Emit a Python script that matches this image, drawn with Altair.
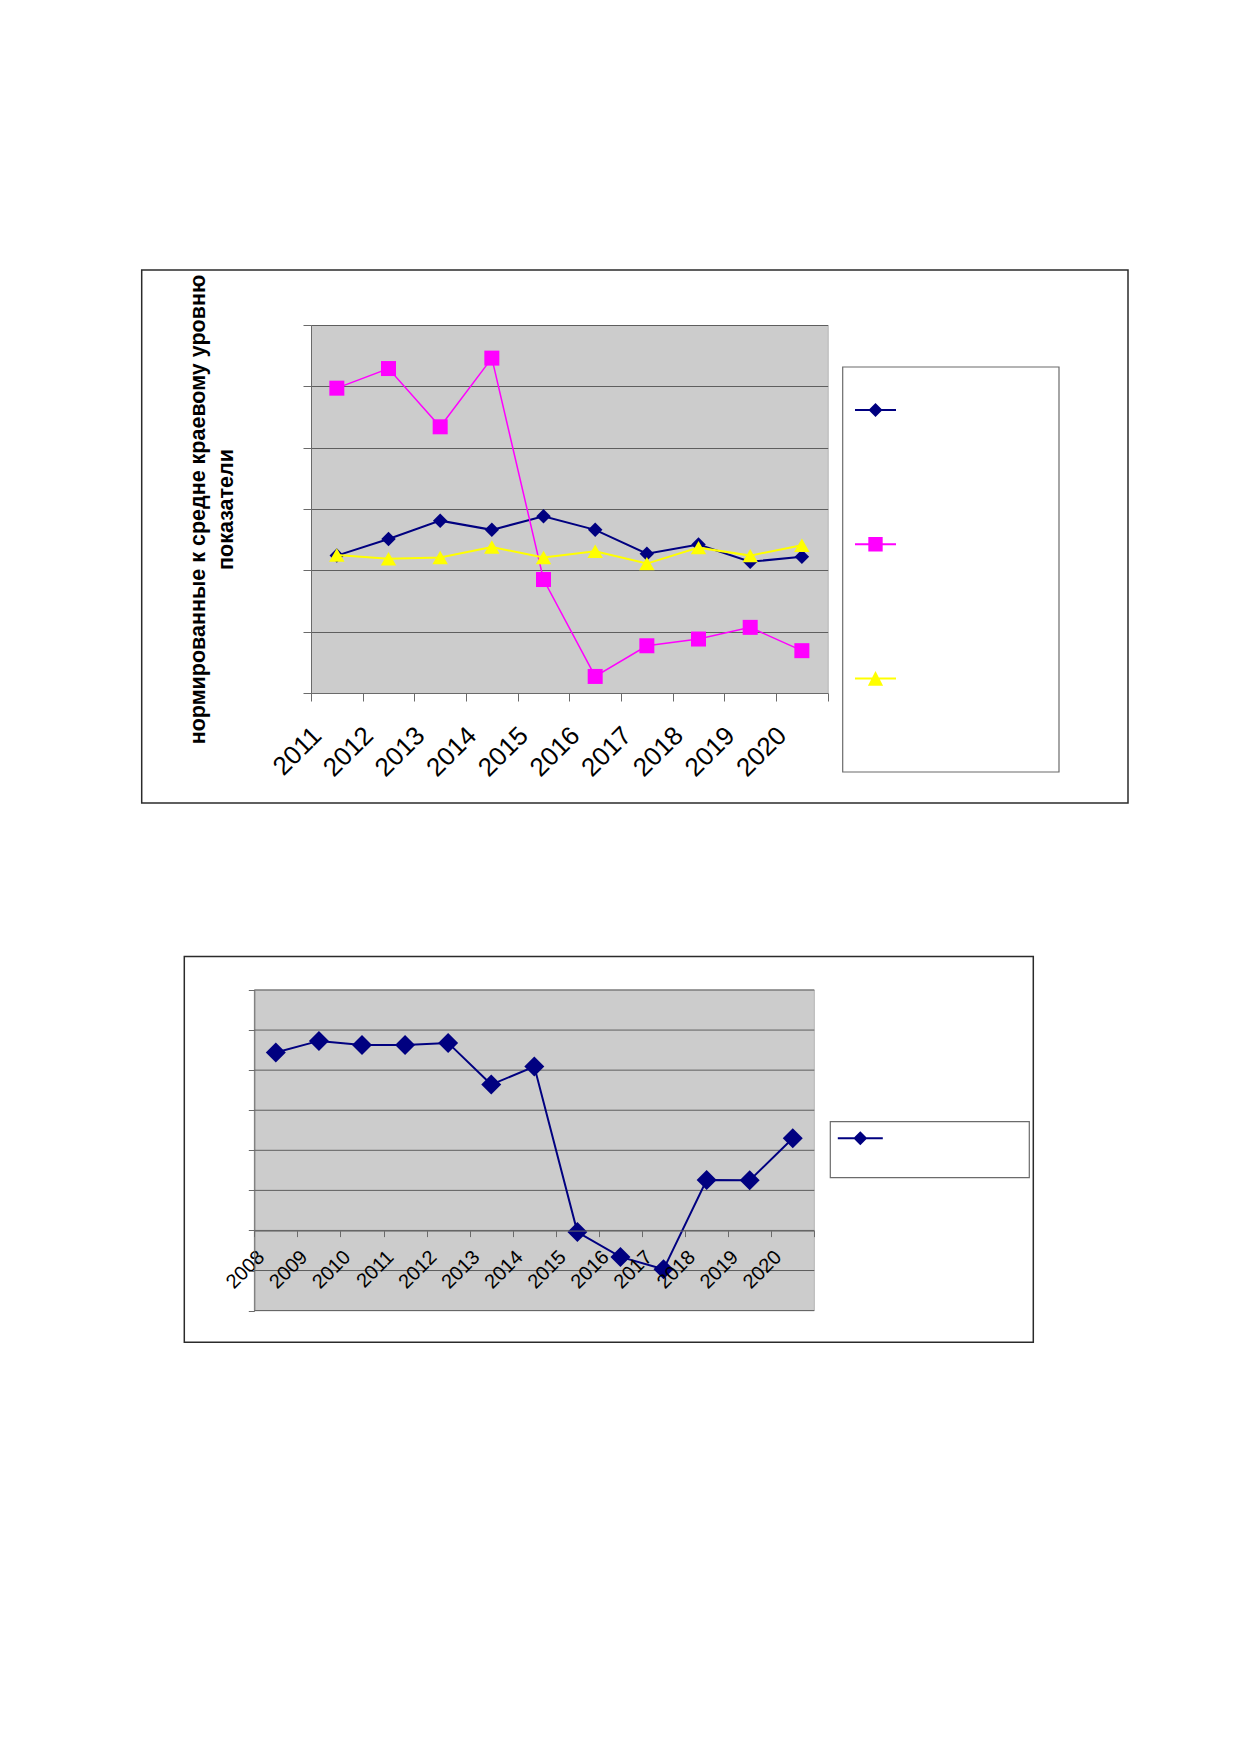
import altair as alt
import pandas as pd

FONT = "Liberation Sans"

# ---------------- data: chart 1 ----------------
years1 = ["2011", "2012", "2013", "2014", "2015", "2016", "2017", "2018", "2019", "2020"]
series1 = ["Показатель 1", "Показатель 2", "Показатель 3"]
blue1 = [2.24, 2.51, 2.81, 2.66, 2.88, 2.66, 2.27, 2.42, 2.14, 2.22]
pink1 = [4.97, 5.29, 4.34, 5.46, 1.85, 0.27, 0.77, 0.88, 1.07, 0.69]
yellow1 = [2.25, 2.19, 2.21, 2.38, 2.21, 2.31, 2.11, 2.37, 2.24, 2.41]
y1_ticks = [0, 1, 2, 3, 4, 5, 6]
y1_title = ["нормированные к средне краевому уровню", "показатели"]

# ---------------- data: chart 2 ----------------
years2 = ["2008", "2009", "2010", "2011", "2012", "2013", "2014",
          "2015", "2016", "2017", "2018", "2019", "2020"]
series2 = ["Показатель"]
blue2 = [4.44, 4.73, 4.63, 4.63, 4.68, 3.64, 4.09, -0.04, -0.66, -0.97, 1.26, 1.25, 2.30]
y2_ticks = [-2, -1, 0, 1, 2, 3, 4, 5, 6]

NAVY, MAGENTA, YELLOW = "#000080", "#FF00FF", "#FFFF00"
PLOT_BG = "#CCCCCC"
PLOT_EDGE = "#B5B5B5"
GRID = "#5e5e5e"
AXIS = "#6a6a6a"

df1 = pd.DataFrame({
    "year": years1 * 3,
    "series": [series1[0]] * 10 + [series1[1]] * 10 + [series1[2]] * 10,
    "value": blue1 + pink1 + yellow1,
})
df2 = pd.DataFrame({"year": years2, "series": series2[0], "value": blue2})
ticks2 = pd.DataFrame({"value": y2_ticks})

one = pd.DataFrame({"k": [1]})


def box(x, x2, y, y2, stroke, sw=1.0, opacity=1.0, fill="transparent"):
    return alt.Chart(one).mark_rect(
        fill=fill, stroke=stroke, strokeWidth=sw, opacity=opacity
    ).encode(x=alt.value(x), x2=alt.value(x2), y=alt.value(y), y2=alt.value(y2))


# ================= chart 1 =================
W1, H1 = 516.7, 368
x1 = alt.X(
    "year:O",
    bandPosition=0.5,
    scale=alt.Scale(type="band", domain=years1, paddingInner=0, paddingOuter=0),
    axis=alt.Axis(
        title=None, tickBand="extent", labelAngle=-45, labelAlign="right",
        labelBaseline="middle", labelFont=FONT, labelFontSize=26, labelColor="black",
        labelOffset=-20, labelPadding=30, tickSize=8, tickColor=AXIS, domainColor=AXIS,
        labelOverlap=False, grid=False,
    ),
)
y1 = alt.Y(
    "value:Q",
    scale=alt.Scale(domain=[0, 6], nice=False, zero=False),
    axis=alt.Axis(
        values=y1_ticks, labels=False, grid=True, gridColor=GRID, tickSize=8,
        tickColor=AXIS, domainColor=AXIS, title=y1_title, titleFont=FONT,
        titleFontSize=21.5, titleFontWeight="bold", titleColor="black",
        titleAngle=-90, titleAlign="center", titleBaseline="middle",
        titleX=-113, titleY=H1 / 2, titleLineHeight=28,
    ),
)

styles1 = [
    (series1[0], NAVY, "diamond", 210, 2),
    (series1[1], MAGENTA, "square", 225, 1.5),
    (series1[2], YELLOW, "triangle-up", 240, 2),
]
layers1 = []
for name, col, shp, sz, lw in styles1:
    base = alt.Chart(df1).transform_filter(alt.datum.series == name)
    layers1.append(base.mark_line(color=col, strokeWidth=lw).encode(x=x1, y=y1))
    layers1.append(base.mark_point(shape=shp, filled=True, color=col, size=sz,
                                   opacity=1).encode(x=x1, y=y1))

leg_paths1 = [
    "M-1,-0.05L1,-0.05L1,0.05L-1,0.05Z M0,-0.34L0.34,0L0,0.34L-0.34,0Z",
    "M-1,-0.05L1,-0.05L1,0.05L-1,0.05Z M-0.35,-0.35L0.35,-0.35L0.35,0.35L-0.35,0.35Z",
    "M-1,-0.05L1,-0.05L1,0.05L-1,0.05Z M0,-0.36L0.37,0.36L-0.37,0.36Z",
]
legend1_props = dict(
    title=None, orient="none", legendX=544, legendY=64.5, padding=0,
    rowPadding=106.2, symbolSize=1681, symbolStrokeWidth=0, symbolOpacity=1,
    labelExpr="''", labelFontSize=1,
)
legend1 = alt.Chart(pd.DataFrame({"series": series1})).transform_filter("false").mark_point(
    filled=True, opacity=1
).encode(
    color=alt.Color("series:N", scale=alt.Scale(domain=series1, range=[NAVY, MAGENTA, YELLOW]),
                    legend=alt.Legend(**legend1_props)),
    shape=alt.Shape("series:N", scale=alt.Scale(domain=series1, range=leg_paths1),
                    legend=alt.Legend(**legend1_props)),
)

chart1 = alt.layer(
    box(-180, 830, -66, 486, "white", 0, 0),          # invisible bounds
    box(-169.3, 817, -55, 478, "#2b2b2b", 1.5),        # chart frame
    box(531.7, 748, 42, 447, "#6b6b6b", 1.2),          # legend box
    *layers1,
    legend1,
).properties(width=W1, height=H1,
             view=alt.ViewBackground(fill=PLOT_BG, stroke=PLOT_EDGE, strokeWidth=1))

# ================= chart 2 =================
# the plot spans x = -56.7 .. 503.3 relative to the column origin shared with chart 1
X2_LEFT, X2_RIGHT = -56.7, 503.3
H2 = 320.6
x2 = alt.X(
    "year:O",
    bandPosition=0.5,
    scale=alt.Scale(type="band", domain=years2, range=[X2_LEFT, X2_RIGHT],
                    paddingInner=0, paddingOuter=0),
    axis=alt.Axis(
        title=None, tickBand="extent", labelAngle=-45, labelAlign="right",
        labelBaseline="middle", labelFont=FONT, labelFontSize=20, labelColor="black",
        labelOffset=-15, labelPadding=17, tickSize=6, tickColor=AXIS, domainColor=AXIS,
        labelOverlap=False, grid=False, offset=-80, zindex=1,
    ),
)


def y2enc(field):
    return alt.Y(
        f"{field}:Q",
        scale=alt.Scale(domain=[-2, 6], nice=False, zero=False),
        axis=alt.Axis(
            values=y2_ticks, labels=False, grid=False, tickSize=6,
            tickColor=AXIS, domainColor=AXIS, title=None, offset=-X2_LEFT, zindex=1,
        ),
    )


bg2 = box(X2_LEFT, X2_RIGHT, 0, H2, PLOT_EDGE, 1, 1, PLOT_BG)
grid2 = alt.Chart(ticks2).mark_rule(color=GRID, strokeWidth=1).encode(
    y=y2enc("value"), x=alt.value(X2_LEFT), x2=alt.value(X2_RIGHT)
)
base2 = alt.Chart(df2)
line2 = base2.mark_line(color=NAVY, strokeWidth=2).encode(x=x2, y=y2enc("value"))
pts2 = base2.mark_point(shape="diamond", filled=True, color=NAVY, size=400,
                        opacity=1).encode(x=x2, y=y2enc("value"))

legend2_props = dict(
    title=None, orient="none", legendX=526.8, legendY=125.8, padding=0,
    symbolSize=2025, symbolStrokeWidth=0, symbolOpacity=1,
    labelExpr="''", labelFontSize=1,
)
legend2 = alt.Chart(pd.DataFrame({"series": series2})).transform_filter("false").mark_point(
    filled=True, opacity=1
).encode(
    color=alt.Color("series:N", scale=alt.Scale(domain=series2, range=[NAVY]),
                    legend=alt.Legend(**legend2_props)),
    shape=alt.Shape("series:N", scale=alt.Scale(
        domain=series2,
        range=["M-1,-0.045L1,-0.045L1,0.045L-1,0.045Z M0,-0.31L0.31,0L0,0.31L-0.31,0Z"]),
        legend=alt.Legend(**legend2_props)),
)

chart2 = alt.layer(
    box(-180, 733.3, -42.7, 362.3, "white", 0, 0),     # invisible bounds
    box(-126.7, 722.3, -33.4, 352.3, "#2b2b2b", 1.5),  # chart frame
    box(519.3, 718.3, 131.6, 187.6, "#6b6b6b", 1.2),   # legend box
    bg2, grid2, line2, pts2, legend2,
).properties(width=X2_RIGHT, height=H2,
             view=alt.ViewBackground(fill="transparent", stroke="transparent"))

chart = alt.vconcat(chart1, chart2, spacing=134).resolve_scale(
    color="independent", shape="independent"
).resolve_legend(
    color="independent", shape="independent"
).properties(
    padding={"left": 122, "top": 250, "right": 5, "bottom": 5}
)

chart.save("out.html", embed_options={"renderer": "svg", "actions": False})
